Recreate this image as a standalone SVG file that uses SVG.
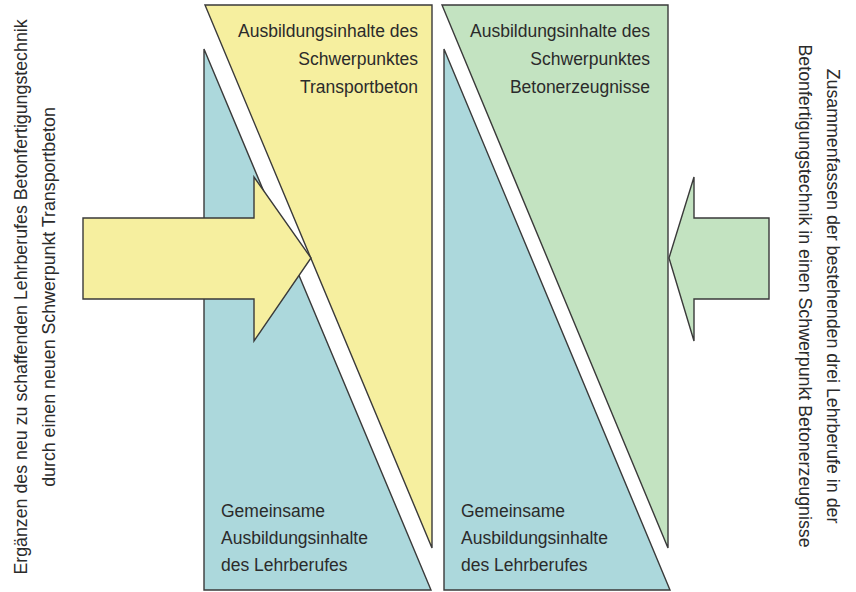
<svg xmlns="http://www.w3.org/2000/svg" width="856" height="592" viewBox="0 0 856 592">
<style>
.sh{stroke:#3a3a3a;stroke-width:1.4;stroke-linejoin:miter}
.teal{fill:#acd8dc}
.yel{fill:#f6ef9f}
.grn{fill:#c3e3c1}
text{font-family:"Liberation Sans",Arial,sans-serif;font-size:17.5px;fill:#2b2b2b}
.side{font-size:17.8px}
.r{text-anchor:end}
.m{text-anchor:middle}
</style>
<rect width="856" height="592" fill="#ffffff"/>
<g id="common-left">
<polygon class="sh teal" points="204,49 204,590 431,590"/>
<text x="221" y="517">Gemeinsame</text>
<text x="221" y="544">Ausbildungsinhalte</text>
<text x="221" y="571">des Lehrberufes</text>
</g>
<g id="transportbeton">
<polygon class="sh yel" points="205,5 432,5 432,548"/>
<text class="r" x="418" y="37">Ausbildungsinhalte des</text>
<text class="r" x="418" y="65">Schwerpunktes</text>
<text class="r" x="418" y="93">Transportbeton</text>
</g>
<g id="common-right">
<polygon class="sh teal" points="444,49 444,590 670,590"/>
<text x="461" y="517">Gemeinsame</text>
<text x="461" y="544">Ausbildungsinhalte</text>
<text x="461" y="571">des Lehrberufes</text>
</g>
<g id="betonerzeugnisse">
<polygon class="sh grn" points="442,5 668,5 668,548"/>
<text class="r" x="650" y="37">Ausbildungsinhalte des</text>
<text class="r" x="650" y="65">Schwerpunktes</text>
<text class="r" x="650" y="93">Betonerzeugnisse</text>
</g>
<g id="connectors">
<polygon class="sh yel" points="83,218 254,218 254,177 311,258 254,341 254,299 83,299"/>
<polygon class="sh grn" points="769,218 694,218 694,177 669,258 694,341 694,299 769,299"/>
</g>
<g id="label-left">
<text class="side m" transform="translate(27,297) rotate(-90)">Ergänzen des neu zu schaffenden Lehrberufes Betonfertigungstechnik</text>
<text class="side m" transform="translate(55,297) rotate(-90)">durch einen neuen Schwerpunkt Transportbeton</text>
</g>
<g id="label-right">
<text class="side m" transform="translate(827,296) rotate(90)">Zusammenfassen der bestehenden drei Lehrberufe in der</text>
<text class="side m" transform="translate(799,296) rotate(90)">Betonfertigungstechnik in einen Schwerpunkt Betonerzeugnisse</text>
</g>
</svg>
